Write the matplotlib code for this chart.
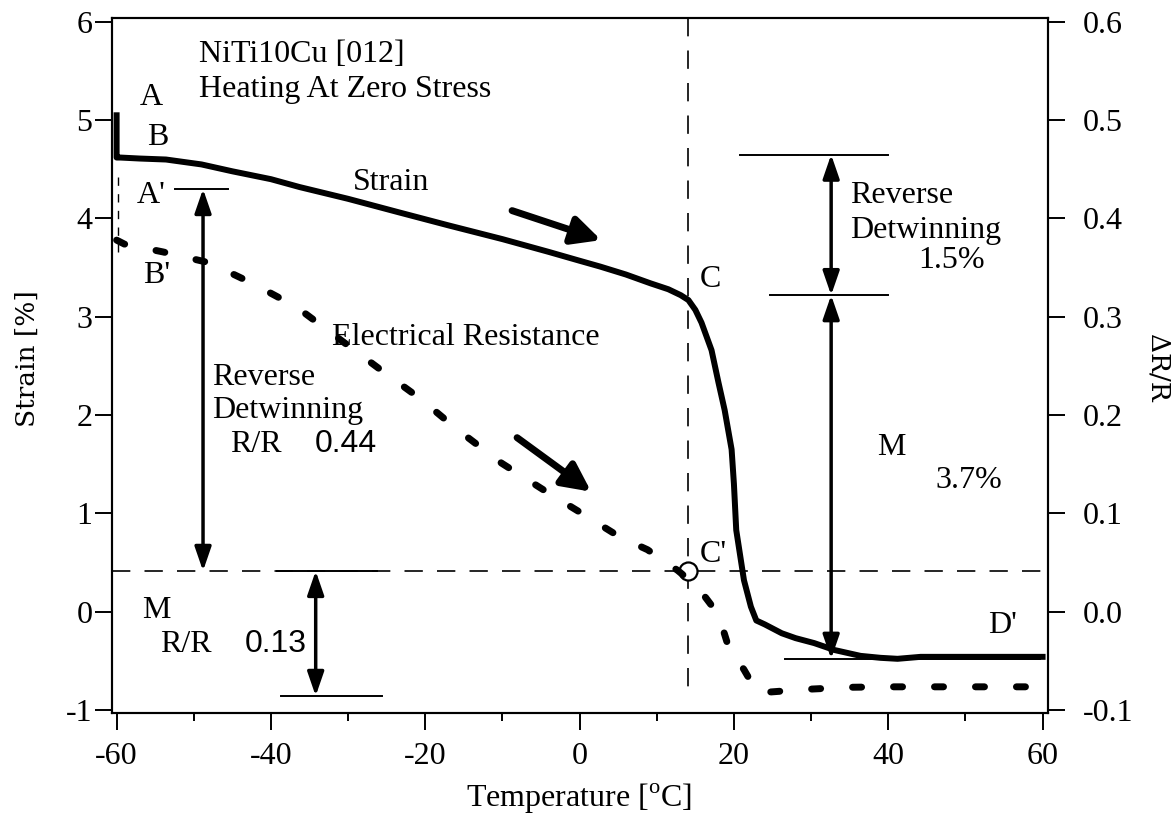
import matplotlib
matplotlib.use("Agg")
import matplotlib.pyplot as plt
from matplotlib.patches import FancyArrowPatch

plt.rcParams["font.family"] = ["Liberation Serif", "DejaVu Serif"]
plt.rcParams["mathtext.fontset"] = "custom"
plt.rcParams["mathtext.rm"] = "Liberation Serif"
plt.rcParams["axes.unicode_minus"] = False

# ---- data -------------------------------------------------------------
# strain on heating (temperature in degC, strain in %)
strain_T = [-60.0, -60.0, -59.5, -57.0, -53.6, -49.0, -45.0, -40.0, -36.3,
            -30.0, -23.3, -17.0, -10.0, -4.0, 0.0, 2.7, 6.0, 9.2, 11.5,
            13.1, 14.1, 15.0, 15.8, 17.1, 18.0, 18.8, 19.7, 20.0, 20.3,
            21.3, 22.2, 22.9, 24.0, 26.2, 28.0, 30.4, 33.0, 36.4, 39.0,
            41.2, 44.2, 50.0, 55.0, 60.0]
strain_val = [5.05, 4.62, 4.62, 4.61, 4.60, 4.55, 4.48, 4.40, 4.32,
              4.20, 4.06, 3.93, 3.79, 3.66, 3.57, 3.51, 3.43, 3.34, 3.28,
              3.22, 3.17, 3.07, 2.94, 2.66, 2.33, 2.05, 1.65, 1.30, 0.83,
              0.32, 0.05, -0.09, -0.13, -0.22, -0.27, -0.32, -0.39, -0.45, -0.47,
              -0.48, -0.46, -0.46, -0.46, -0.46]

# electrical resistance change on heating (delta R / R)
res_T = [-60.0, -59.0, -54.0, -48.0, -42.4, -36.7, -25.6, -20.7, -15.8,
         -10.1, -4.3, 0.7, 5.2, 8.8, 12.7, 15.3, 18.0, 19.3, 21.3, 23.0,
         24.3, 26.0, 29.5, 34.7, 40.0, 50.0, 58.0]
res_val = [0.378, 0.374, 0.366, 0.355, 0.334, 0.310, 0.245, 0.217, 0.185,
           0.151, 0.122, 0.098, 0.076, 0.063, 0.042, 0.025, -0.003, -0.036,
           -0.059, -0.082, -0.082, -0.081, -0.079, -0.077, -0.0765, -0.0765,
           -0.0765]

# initial drop of the resistance trace at the start of heating (strain units)
start_T = [-59.8, -59.8]
start_strain = [4.42, 3.65]

# characteristic points
T_C = 14.1            # onset of reverse transformation (C / C')
strain_Cprime = 0.41  # level of C' on the strain scale

# measurement brackets
left_bracket_T = -48.8
left_bracket = [4.30, 0.414]          # reverse detwinning, dR/R 0.44
mid_bracket_T = -34.2
mid_bracket = [0.414, -0.858]         # martensite, dR/R 0.13
right_bracket_T = 32.6
right_bracket = [4.65, 3.22, -0.48]   # 1.5 % detwinning, 3.7 % transformation

# reference tick lines of the brackets: (level, T start, T end)
bracket_lines = [
    (4.30, -52.4, -45.6),
    (0.414, -39.2, -26.2),
    (-0.858, -38.7, -25.6),
    (4.65, 20.8, 40.0),
    (3.22, 24.7, 40.0),
    (-0.48, 26.6, 59.7),
]

# heating direction arrows: (T tail, strain tail, T tip, strain tip)
heating_arrows = [(-8.75, 4.08, 2.8, 3.78),
                  (-8.1, 1.77, 1.5, 1.22)]

x_ticks = [-60, -40, -20, 0, 20, 40, 60]
x_labels = ["-60", "-40", "-20", "0", "20", "40", "60"]
y_ticks = [-1, 0, 1, 2, 3, 4, 5, 6]
y_labels = ["-1", "0", "1", "2", "3", "4", "5", "6"]
y2_ticks = [-0.1, 0.0, 0.1, 0.2, 0.3, 0.4, 0.5, 0.6]
y2_labels = ["-0.1", "0.0", "0.1", "0.2", "0.3", "0.4", "0.5", "0.6"]

# ---- figure -----------------------------------------------------------
fig = plt.figure(figsize=(11.75, 8.25), dpi=100)
ax = fig.add_axes([0.0953, 0.1358, 0.7966, 0.8424])
ax2 = ax.twinx()

xlim = (-60.6, 60.7)
ylim = (-1.031, 6.04)
ax.set_xlim(*xlim)
ax.set_ylim(*ylim)
ax2.set_ylim(ylim[0] / 10.0, ylim[1] / 10.0)

tick_fs = 23
for a in (ax, ax2):
    for s in a.spines.values():
        s.set_linewidth(1.5)
ax.set_xticks(x_ticks)
ax.set_xticklabels(x_labels)
ax.set_xticks([-50, -30, -10, 10, 30, 50], minor=True)
ax.set_yticks(y_ticks)
ax.set_yticklabels(y_labels)
ax2.set_yticks(y2_ticks)
ax2.set_yticklabels(y2_labels)
ax.tick_params(axis="x", which="major", direction="out", length=12, width=1.4,
               labelsize=tick_fs, pad=9)
ax.tick_params(axis="x", which="minor", direction="out", length=6, width=1.4)
ax.tick_params(axis="y", which="major", direction="out", length=12, width=1.4,
               labelsize=tick_fs, pad=2)
ax2.tick_params(axis="y", which="major", direction="out", length=12, width=1.4,
                labelsize=tick_fs, pad=13)

# guide lines through C / C'
dash = (0, (11, 8.5))
ax.axhline(strain_Cprime, color="black", lw=1.2, linestyle=dash, zorder=2)
ax.plot([T_C, T_C], [ylim[1], -0.8], color="black", lw=1.2, linestyle=dash,
        zorder=2)

# curves
ax.plot(strain_T, strain_val, color="black", lw=4.3, solid_joinstyle="round",
        zorder=4)
ax.plot(start_T, start_strain, color="black", lw=1.0, linestyle=(0, (6, 6)),
        zorder=4)
ax2.plot(res_T, res_val, color="black", lw=5.0, linestyle=(0, (1.3, 4.6)),
         dash_capstyle="round", zorder=4)
ax.plot([T_C], [strain_Cprime], marker="o", ms=13, mfc="white", mec="black",
        mew=1.6, zorder=5)

# bracket tick lines
for lvl, t0, t1 in bracket_lines:
    ax.plot([t0, t1], [lvl, lvl], color="black", lw=1.4, zorder=3)


def double_arrow(t, y0, y1):
    arr = FancyArrowPatch((t, y0), (t, y1),
                          arrowstyle="<|-|>,head_length=1.45,head_width=0.5",
                          mutation_scale=10, lw=2.5, color="black",
                          shrinkA=0, shrinkB=0, zorder=4)
    ax.add_patch(arr)


double_arrow(left_bracket_T, left_bracket[0], left_bracket[1])
double_arrow(mid_bracket_T, mid_bracket[0], mid_bracket[1])
double_arrow(right_bracket_T, right_bracket[0], right_bracket[1])
double_arrow(right_bracket_T, right_bracket[1], right_bracket[2])

# heating direction arrows
for t0, s0, t1, s1 in heating_arrows:
    ax.annotate("", xy=(t1, s1), xytext=(t0, s0),
                arrowprops=dict(arrowstyle="-|>,head_length=0.85,head_width=0.42",
                                mutation_scale=20, lw=5, color="black",
                                shrinkA=0, shrinkB=0), zorder=5)

# labels
fs = 23
def txt(t, s, string, **kw):
    kw.setdefault("fontsize", fs)
    ax.text(t, s, string, ha="left", va="baseline", zorder=6, **kw)

txt(-49.3, 5.59, "NiTi10Cu [012]")
txt(-49.3, 5.24, "Heating At Zero Stress")
txt(-57.0, 5.15, "A")
txt(-56.1, 4.75, "B")
txt(-57.4, 4.16, "A'")
txt(-56.6, 3.34, "B'")
txt(-29.4, 4.29, "Strain")
txt(-32.1, 2.71, "Electrical Resistance")
txt(-47.6, 2.31, "Reverse")
txt(-47.6, 1.97, "Detwinning")
txt(-45.3, 1.62, "R/R")
txt(-34.3, 1.62, "0.44", family=["Liberation Sans", "DejaVu Sans"])
txt(-56.7, -0.065, "M")
txt(-54.4, -0.41, "R/R")
txt(-43.4, -0.41, "0.13", family=["Liberation Sans", "DejaVu Sans"])
txt(15.6, 3.30, "C")
txt(15.6, 0.51, "C'")
txt(52.9, -0.22, "D'")
txt(35.0, 4.16, "Reverse")
txt(35.0, 3.80, "Detwinning")
txt(43.9, 3.50, "1.5%")
txt(38.6, 1.59, "M")
txt(46.1, 1.26, "3.7%")

fig.text(579 / 1175, 1 - 807 / 825, "Temperature [$^{\\mathrm{o}}$C]",
         ha="center", va="baseline", fontsize=fs)
fig.text(27 / 1175, 1 - 359 / 825, "Strain [%]", rotation=90, ha="center",
         va="center", fontsize=19, family=["DejaVu Serif"])
fig.text(1158 / 1175, 1 - 368 / 825, "\u0394R/R", rotation=270, ha="center",
         va="center", fontsize=19, family=["DejaVu Serif"])

fig.savefig("out.png", dpi=100)
